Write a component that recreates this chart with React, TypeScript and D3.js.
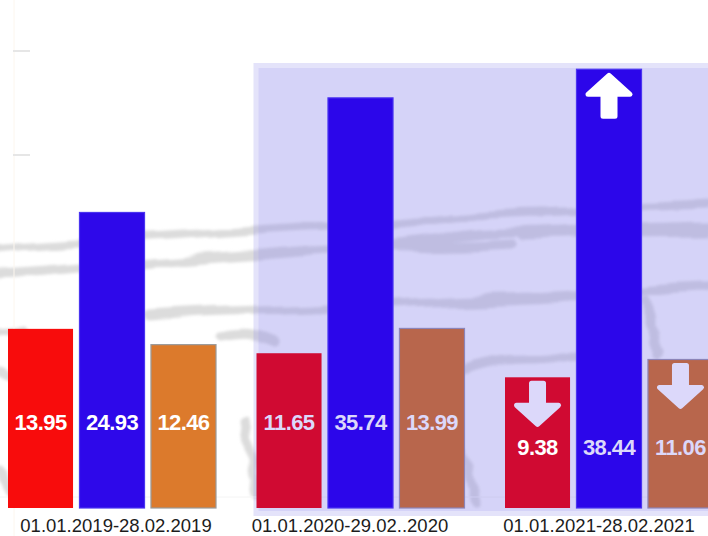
import React from "react";
import * as d3 from "d3";

// ---- data ----
const categories = ["01.01.2019-28.02.2019", "01.01.2020-29.02..2020", "01.01.2021-28.02.2021"];
const seriesNames = ["red", "blue", "orange"];
const redValues = [13.95, 11.65, 9.38];
const blueValues = [24.93, 35.74, 38.44];
const orangeValues = [12.46, 13.99, 11.06];
const redTrend = ["", "", "down"];
const blueTrend = ["", "", "up"];
const orangeTrend = ["", "", "down"];
const highlightedCategories = [categories[1], categories[2]];

// decorative background sketch strokes
const sketch: [number, number][][] = [
  [[-5, 248], [40, 244], [100, 241], [170, 237], [240, 232], [300, 228], [360, 226], [420, 222], [470, 214], [540, 212], [620, 208], [708, 205]],
  [[-5, 274], [40, 272], [110, 265], [180, 260], [250, 255], [320, 249], [390, 246], [430, 240], [480, 234], [540, 232], [620, 228], [710, 226]],
  [[150, 316], [220, 312], [300, 310], [380, 305], [460, 300], [540, 298], [600, 294], [660, 288], [710, 286]],
  [[400, 246], [460, 247], [510, 244]],
  [[520, 236], [600, 234], [708, 233]],
  [[0, 333], [25, 331]],
  [[220, 335], [250, 330], [275, 340]],
  [[645, 300], [652, 325], [660, 355]],
  [[465, 372], [500, 360], [540, 362], [575, 356]],
  [[0, 372], [15, 378], [25, 392]],
  [[245, 420], [250, 455], [256, 495]],
  [[462, 445], [470, 470], [476, 500]],
  [[0, 470], [10, 485], [15, 500]],
];

const W = 708;
const H = 536;
const baseY = 508;

const barColors = [
  ["#f80c0c", "#2e08ea", "#dc7a2c"],
  ["#d00a32", "#2c06ea", "#b8664c"],
  ["#d00a32", "#2c06ea", "#b8664c"],
];
const barStrokes = [
  ["none", "#4a34f0", "#9a9a9a"],
  ["none", "#4a34f0", "#8c84b8"],
  ["none", "#4a34f0", "#8c84b8"],
];
const labelColors = [
  ["#ffffff", "#ffffff", "#ffffff"],
  ["#dcd8fa", "#dcd8fa", "#dcd8fa"],
  ["#ffffff", "#dcd8fa", "#dcd8fa"],
];
const arrowColors = { up: "#ffffff", down: "#dcd8fa" };
const labelShift = [116, 350, 599];

function arrowPath(cx: number, top: number, dir: string) {
  const hw = 21, sw = 6, len = 41, head = 19;
  if (dir === "up") {
    return `M${cx},${top} L${cx + hw},${top + head} L${cx + sw},${top + head} L${cx + sw},${top + len} L${cx - sw},${top + len} L${cx - sw},${top + head} L${cx - hw},${top + head} Z`;
  }
  const b = top + len;
  return `M${cx},${b} L${cx + hw},${b - head} L${cx + sw},${b - head} L${cx + sw},${top} L${cx - sw},${top} L${cx - sw},${b - head} L${cx - hw},${b - head} Z`;
}

export default function App() {
  const values = [redValues, blueValues, orangeValues];
  const trends = [redTrend, blueTrend, orangeTrend];

  const x0 = d3.scaleBand<string>().domain(categories).range([8, 8 + 3 * 248.5]).paddingInner(0).paddingOuter(0);
  const x1 = d3.scaleBand<string>().domain(seriesNames).range([0, 208]).paddingInner(0.09).paddingOuter(0);
  const y = d3.scaleLinear().domain([-2.95, 39.03]).range([baseY, 63]);

  const line = d3.line<[number, number]>().curve(d3.curveBasis);

  const hx = x0(highlightedCategories[0])! - 3;

  const labelBase = [baseY - 78, baseY - 78, baseY - 53];

  return (
    <svg width={W} height={H} style={{ position: "absolute", left: 0, top: 0, background: "#ffffff" }}
      fontFamily="'Liberation Sans', Arial, sans-serif">
      <defs>
        <filter id="rough" x="-5%" y="-20%" width="110%" height="140%">
          <feTurbulence type="fractalNoise" baseFrequency="0.012 0.04" numOctaves={2} seed={5} result="n" />
          <feDisplacementMap in="SourceGraphic" in2="n" scale={14} xChannelSelector="R" yChannelSelector="G" />
          <feGaussianBlur stdDeviation={1.6} />
        </filter>
      </defs>
      <rect x={0} y={0} width={W} height={H} fill="#ffffff" />
      {/* sketch texture */}
      <g fill="none" stroke="#dcdcdc" strokeWidth={9} strokeLinecap="round" strokeLinejoin="round" filter="url(#rough)">
        {sketch.map((pts, i) => (
          <path key={i} d={line(pts) || ""} />
        ))}
      </g>
      {/* faint axis */}
      <line x1={14} x2={14} y1={0} y2={H} stroke="#fcf6ee" strokeWidth={1} />
      <line x1={13} x2={30} y1={51} y2={51} stroke="#e6e6e6" strokeWidth={2} />
      <line x1={13} x2={30} y1={155} y2={155} stroke="#e6e6e6" strokeWidth={2} />
      <line x1={0} x2={W} y1={497} y2={497} stroke="#f4f4f4" strokeWidth={1} />
      {/* highlight region */}
      <rect x={hx} y={63} width={W - hx + 5} height={453} fill="rgb(144,139,236)" fillOpacity={0.243} />
      <rect x={hx + 5} y={68} width={W - hx} height={443} fill="rgb(144,139,236)" fillOpacity={0.168} />
      {/* bars */}
      {categories.map((cat, gi) => (
        <g key={cat} transform={`translate(${x0(cat)},0)`}>
          {seriesNames.map((s, si) => {
            const v = values[si][gi];
            const bx = x1(s)!;
            const bw = x1.bandwidth();
            const top = y(v);
            const tr = trends[si][gi];
            return (
              <g key={s}>
                <rect x={bx} y={top} width={bw} height={baseY - top} fill={barColors[gi][si]}
                  stroke={barStrokes[gi][si]} strokeWidth={barStrokes[gi][si] === "none" ? 0 : 1.2} />
                {tr && (
                  <path d={arrowPath(bx + bw / 2, top + 6, tr)}
                    fill={tr === "up" ? arrowColors.up : arrowColors.down}
                    stroke={tr === "up" ? arrowColors.up : arrowColors.down}
                    strokeWidth={5} strokeLinejoin="round" strokeLinecap="round" />
                )}
                <text x={bx + bw / 2} y={labelBase[gi]} textAnchor="middle" fontWeight="bold" fontSize={22}
                  letterSpacing={-0.6} fill={labelColors[gi][si]}>
                  {v.toFixed(2)}
                </text>
              </g>
            );
          })}
        </g>
      ))}
      {/* category labels */}
      {categories.map((cat, i) => (
        <text key={cat} x={labelShift[i]} y={532} textAnchor="middle" fontSize={18.5} fill="#1c1c1c">
          {cat}
        </text>
      ))}
    </svg>
  );
}
